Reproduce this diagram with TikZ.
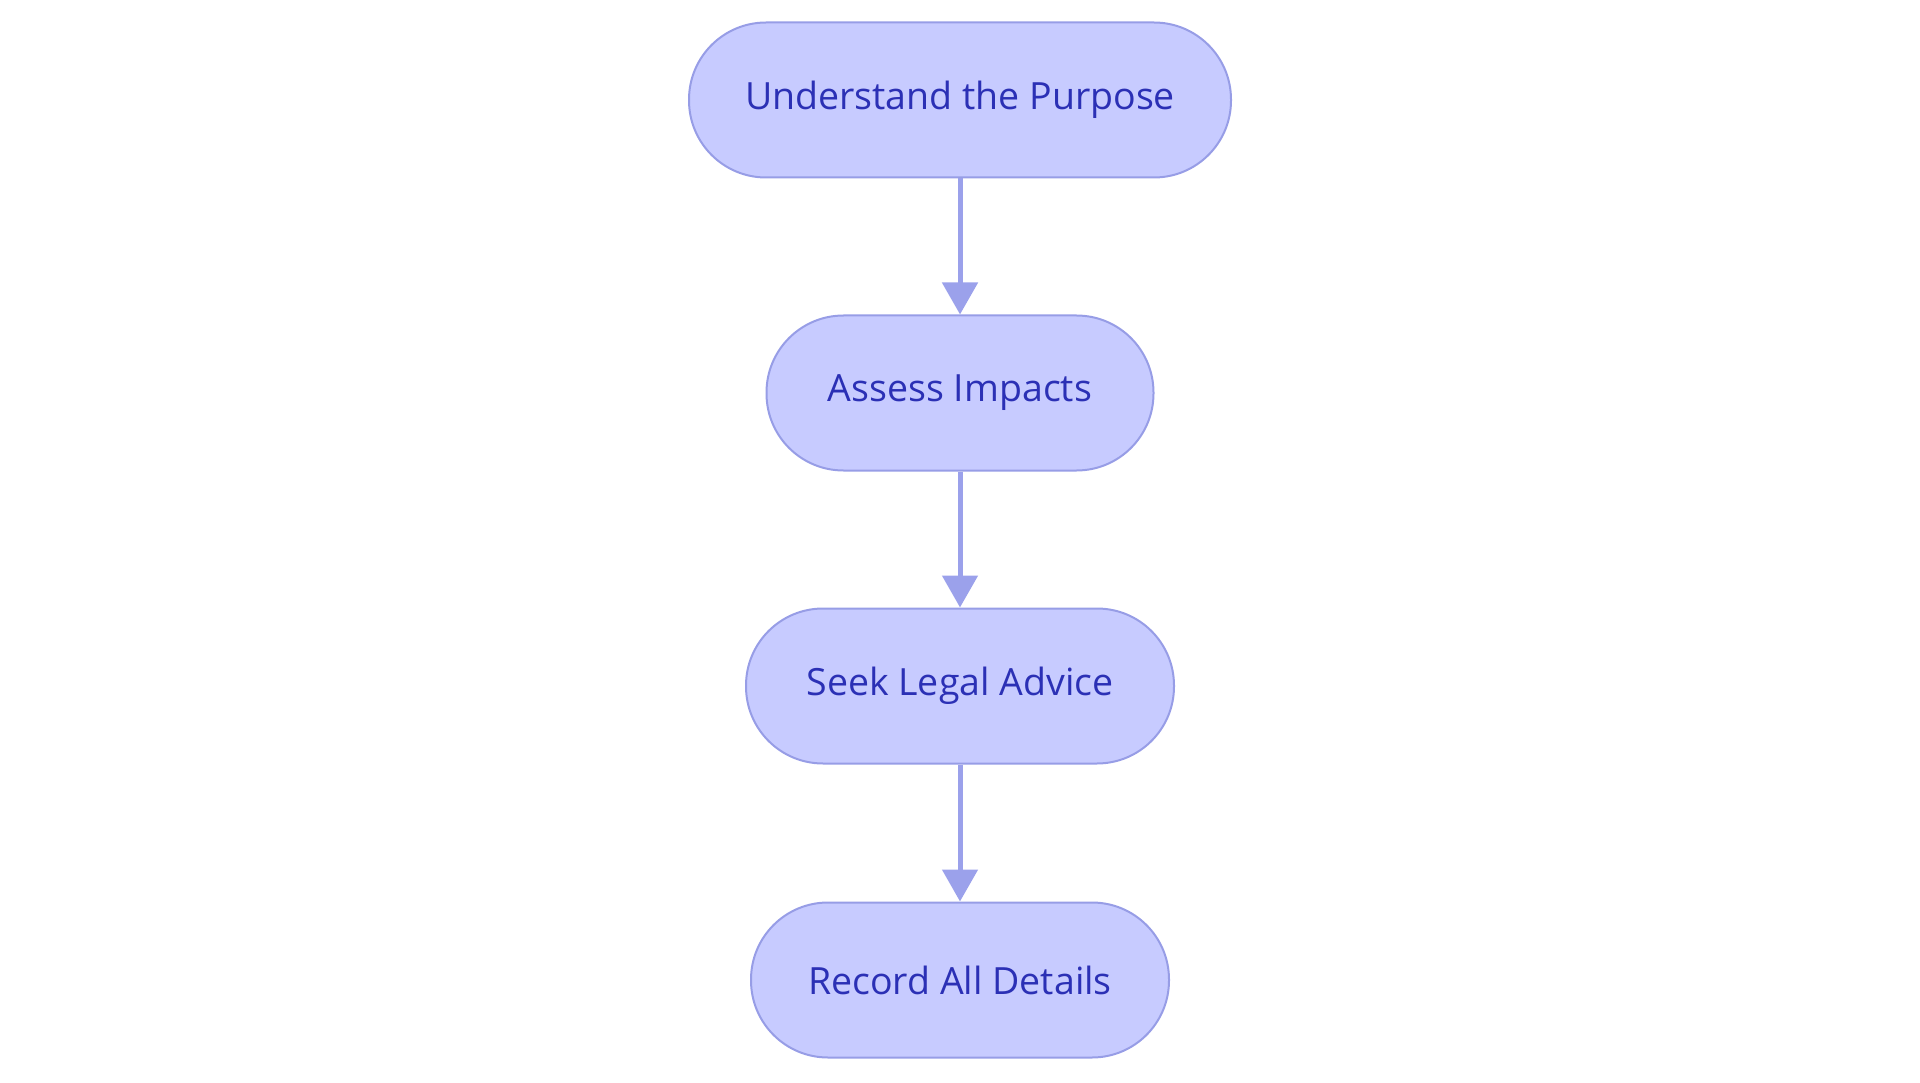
\documentclass[tikz,border=0pt]{standalone}
\usepackage{fontspec}
\setmainfont{Open Sans}
\usetikzlibrary{arrows.meta}
\definecolor{boxfill}{HTML}{C7CBFF}
\definecolor{boxline}{HTML}{979DE6}
\definecolor{txt}{HTML}{2B30B5}
\definecolor{arr}{HTML}{9BA1EB}
\tikzset{
  stadium/.style={draw=boxline, fill=boxfill, line width=2pt, rounded corners=77pt,
    minimum height=155pt, inner sep=0pt, text=txt, font=\fontsize{37.5}{44}\selectfont},
  flow/.style={draw=arr, line width=5pt, -{Triangle[length=32pt,width=35pt]}}
}
\begin{document}
\begin{tikzpicture}[x=1pt,y=-1pt]
\useasboundingbox (0,0) rectangle (1920,1083);
\node[stadium, minimum width=542pt] (n1) at (960,100) {Understand the Purpose};
\node[stadium, minimum width=387pt] (n2) at (960,393) {Assess Impacts};
\node[stadium, minimum width=428pt] (n3) at (960,686) {Seek Legal Advice};
\node[stadium, minimum width=418pt] (n4) at (960,980) {Record All Details};
\draw[flow] (n1) -- (n2);
\draw[flow] (n2) -- (n3);
\draw[flow] (n3) -- (n4);
\end{tikzpicture}
\end{document}
